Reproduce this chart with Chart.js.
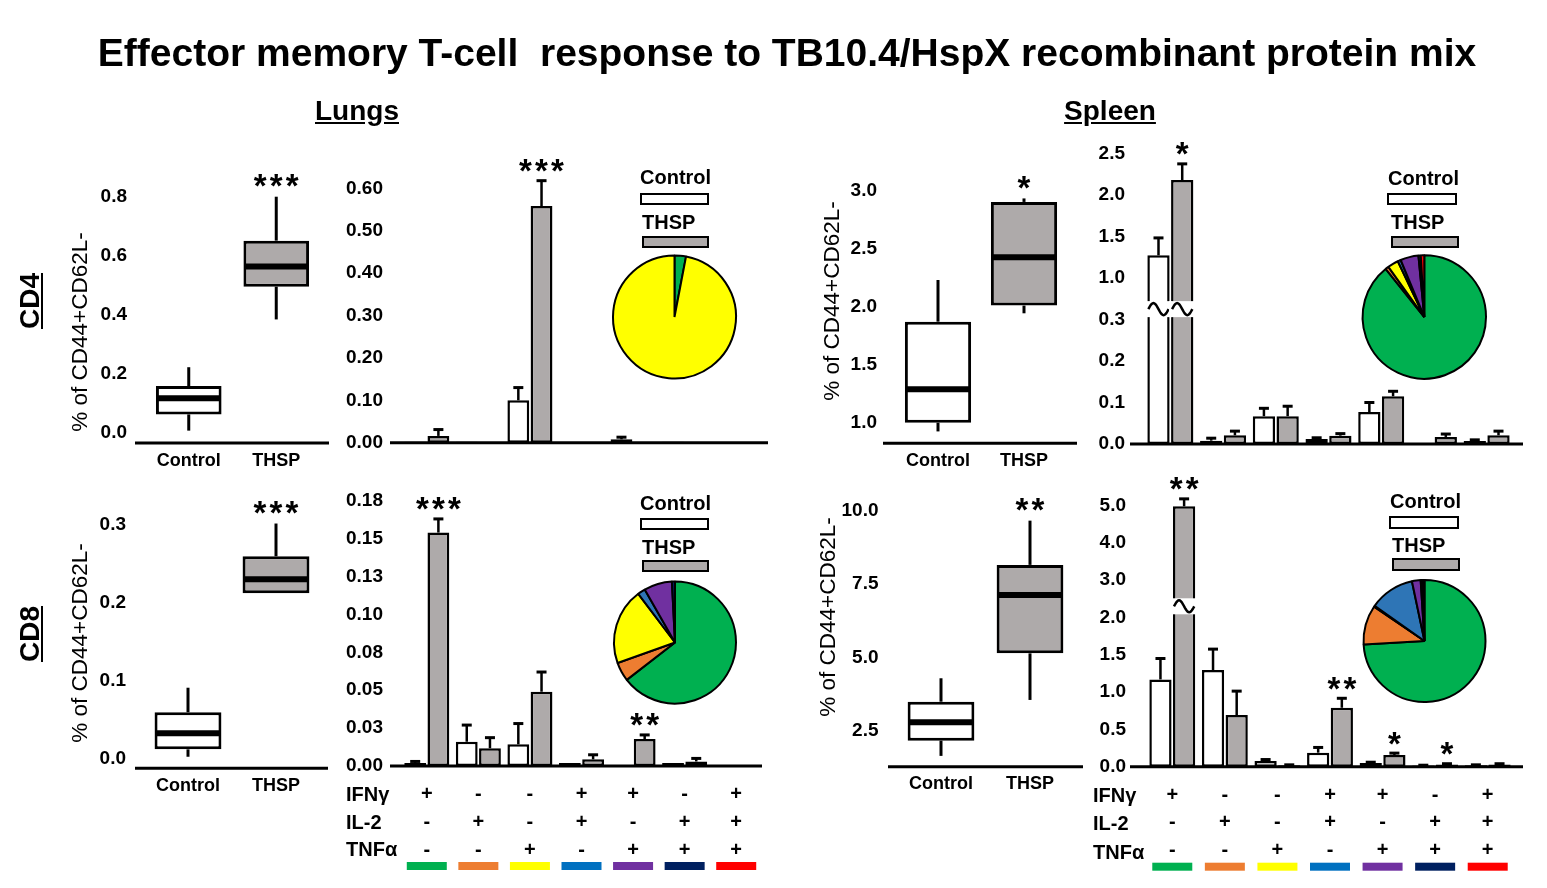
<!DOCTYPE html>
<html><head><meta charset="utf-8"><title>Effector memory T-cell response</title>
<script src="https://cdn.jsdelivr.net/npm/chart.js@4.4.1/dist/chart.umd.min.js"></script>
<style>
html,body{margin:0;padding:0;background:#fff;}
body{position:relative;width:1547px;height:888px;overflow:hidden;font-family:"Liberation Sans",Arial,Helvetica,sans-serif;color:#000;}
canvas{position:absolute;left:0;top:0;}
.t{position:absolute;white-space:nowrap;line-height:1;z-index:5;}
.c{transform:translate(-50%,-50%);}
.l{transform:translateY(-50%);}
.r{transform:translate(-50%,-50%) rotate(-90deg);}
.b{font-weight:bold;}
.u{text-decoration:underline;}
.sw{position:absolute;box-sizing:border-box;border:2.5px solid #000;z-index:5;}
</style></head><body>
<canvas id="c1" width="1547" height="888"></canvas>
<canvas id="c2" width="1547" height="888"></canvas>
<canvas id="c3" width="1547" height="888"></canvas>
<canvas id="c4" width="1547" height="888"></canvas>
<canvas id="c5" width="1547" height="888"></canvas>
<canvas id="c6" width="1547" height="888"></canvas>
<canvas id="c7" width="1547" height="888"></canvas>
<canvas id="c8" width="1547" height="888"></canvas>
<canvas id="p1" width="1547" height="888"></canvas>
<canvas id="p2" width="1547" height="888"></canvas>
<canvas id="p3" width="1547" height="888"></canvas>
<canvas id="p4" width="1547" height="888"></canvas>

<div class="t c b" style="left:787px;top:52px;font-size:39px;">Effector memory T-cell&nbsp; response to TB10.4/HspX recombinant protein mix</div>
<div class="t c b u" style="left:357px;top:111px;font-size:28px;">Lungs</div>
<div class="t c b u" style="left:1110px;top:111px;font-size:28px;">Spleen</div>
<div class="t r b u" style="left:30px;top:301px;font-size:28px;">CD4</div>
<div class="t r b u" style="left:30px;top:634px;font-size:28px;">CD8</div>
<div class="t r" style="left:80px;top:332px;font-size:22.5px;">% of CD44+CD62L-</div>
<div class="t r" style="left:80px;top:643px;font-size:22.5px;">% of CD44+CD62L-</div>
<div class="t r" style="left:832px;top:301px;font-size:22.5px;">% of CD44+CD62L-</div>
<div class="t r" style="left:828px;top:617px;font-size:22.5px;">% of CD44+CD62L-</div>

<div class="t l b" style="left:640px;top:177px;font-size:20px;">Control</div>
<div class="sw" style="left:640px;top:193px;width:69px;height:12px;background:#fff;"></div>
<div class="t l b" style="left:642px;top:222px;font-size:20px;">THSP</div>
<div class="sw" style="left:642px;top:236px;width:67px;height:12px;background:#AEAAAA;"></div>

<div class="t l b" style="left:640px;top:503px;font-size:20px;">Control</div>
<div class="sw" style="left:640px;top:518px;width:69px;height:12px;background:#fff;"></div>
<div class="t l b" style="left:642px;top:547px;font-size:20px;">THSP</div>
<div class="sw" style="left:642px;top:560px;width:67px;height:12px;background:#AEAAAA;"></div>

<div class="t l b" style="left:1388px;top:178px;font-size:20px;">Control</div>
<div class="sw" style="left:1387px;top:193px;width:70px;height:12px;background:#fff;"></div>
<div class="t l b" style="left:1391px;top:222px;font-size:20px;">THSP</div>
<div class="sw" style="left:1391px;top:236px;width:68px;height:12px;background:#AEAAAA;"></div>

<div class="t l b" style="left:1390px;top:501px;font-size:20px;">Control</div>
<div class="sw" style="left:1389px;top:516px;width:70px;height:13px;background:#fff;"></div>
<div class="t l b" style="left:1392px;top:545px;font-size:20px;">THSP</div>
<div class="sw" style="left:1392px;top:558px;width:68px;height:13px;background:#AEAAAA;"></div>

<div class="t l b" style="left:346px;top:794px;font-size:20px;">IFNγ</div>
<div class="t l b" style="left:346px;top:822px;font-size:20px;">IL-2</div>
<div class="t l b" style="left:346px;top:849px;font-size:20px;">TNFα</div>
<div class="t l b" style="left:1093px;top:795px;font-size:20px;">IFNγ</div>
<div class="t l b" style="left:1093px;top:823px;font-size:20px;">IL-2</div>
<div class="t l b" style="left:1093px;top:852px;font-size:20px;">TNFα</div>

<script>
// ================= DATA =================
const groups = ['G1','G2','G3','G4','G5','G6','G7'];
const ifng = ['+','-','-','+','+','-','+'];
const il2  = ['-','+','-','+','-','+','+'];
const tnfa = ['-','-','+','-','+','+','+'];
const cytoColors = ['#00B050','#ED7D31','#FFFF00','#0070C0','#7030A0','#002060','#FF0000'];
const pieColors  = ['#00B050','#ED7D31','#FFFF00','#2E75B6','#7030A0','#002060','#FF0000'];
const boxCats = ['Control','THSP'];
const GRAY = '#AEAAAA';

// Box plots: [Control, THSP]
const lungsCD4BoxMin = [0.008, 0.385];
const lungsCD4BoxQ1  = [0.063, 0.496];
const lungsCD4BoxMed = [0.118, 0.564];
const lungsCD4BoxQ3  = [0.159, 0.652];
const lungsCD4BoxMax = [0.223, 0.801];
const lungsCD4BoxSig = ['', '***'];
const lungsCD4BoxTicks = [0, 0.2, 0.4, 0.6, 0.8];

const lungsCD8BoxMin = [0.002, 0.2115];
const lungsCD8BoxQ1  = [0.0115, 0.2115];
const lungsCD8BoxMed = [0.032, 0.2295];
const lungsCD8BoxQ3  = [0.059, 0.259];
const lungsCD8BoxMax = [0.0905, 0.301];
const lungsCD8BoxSig = ['', '***'];
const lungsCD8BoxTicks = [0, 0.1, 0.2, 0.3];

const spleenCD4BoxMin = [0.93, 1.944];
const spleenCD4BoxQ1  = [1.005, 2.01];
const spleenCD4BoxMed = [1.292, 2.425];
const spleenCD4BoxQ3  = [1.872, 2.90];
const spleenCD4BoxMax = [2.23, 2.93];
const spleenCD4BoxSig = ['', '*'];
const spleenCD4BoxTicks = [1.0, 1.5, 2.0, 2.5, 3.0];

const spleenCD8BoxMin = [1.64, 3.55];
const spleenCD8BoxQ1  = [2.16, 5.14];
const spleenCD8BoxMed = [2.79, 7.13];
const spleenCD8BoxQ3  = [3.49, 8.16];
const spleenCD8BoxMax = [4.29, 9.67];
const spleenCD8BoxSig = ['', '**'];
const spleenCD8BoxTicks = [2.5, 5.0, 7.5, 10.0];

// Bar charts (7 cytokine groups)
const lungsCD4Ctrl    = [0.002, 0.002, 0.100, 0, 0.008, 0.002, 0];
const lungsCD4CtrlErr = [0, 0, 0.030, 0, 0.005, 0, 0];
const lungsCD4Thsp    = [0.016, 0, 0.558, 0, 0, 0, 0];
const lungsCD4ThspErr = [0.015, 0, 0.060, 0, 0, 0, 0];
const lungsCD4Sig     = ['', '', '***', '', '', '', ''];
const lungsCD4Ticks   = [0, 0.1, 0.2, 0.3, 0.4, 0.5, 0.6];
const lungsCD4TickLabels = ['0.00','0.10','0.20','0.30','0.40','0.50','0.60'];

const lungsCD8Ctrl    = [0.002, 0.016, 0.0143, 0.002, 0, 0.002, 0];
const lungsCD8CtrlErr = [0.001, 0.011, 0.0137, 0, 0, 0, 0];
const lungsCD8Thsp    = [0.154, 0.0117, 0.049, 0.0044, 0.0178, 0.003, 0];
const lungsCD8ThspErr = [0.009, 0.007, 0.013, 0.003, 0.0027, 0.002, 0];
const lungsCD8Sig     = ['***', '', '', '', '**', '', ''];
const lungsCD8Ticks   = [0, 0.025, 0.05, 0.075, 0.1, 0.125, 0.15, 0.175];
const lungsCD8TickLabels = ['0.00','0.03','0.05','0.08','0.10','0.13','0.15','0.18'];

const spleenCD4Ctrl    = [1.273, 0.008, 0.067, 0.012, 0.077, 0.002, 0.007];
const spleenCD4CtrlErr = [0.21, 0.006, 0.019, 0.003, 0.023, 0, 0.003];
const spleenCD4Thsp    = [2.18, 0.021, 0.067, 0.020, 0.115, 0.017, 0.021];
const spleenCD4ThspErr = [0.195, 0.010, 0.024, 0.005, 0.012, 0.007, 0.010];
const spleenCD4Sig     = ['*', '', '', '', '', '', ''];
const spleenCD4Ticks   = [0, 0.1, 0.2, 0.3, 1.0, 1.5, 2.0, 2.5];
const spleenCD4TickLabels = ['0.0','0.1','0.2','0.3','1.0','1.5','2.0','2.5'];

const spleenCD8Ctrl    = [1.17, 1.296, 0.076, 0.188, 0.05, 0.015, 0.02];
const spleenCD8CtrlErr = [0.28, 0.28, 0.02, 0.07, 0.01, 0.005, 0.005];
const spleenCD8Thsp    = [4.98, 0.693, 0.02, 0.79, 0.157, 0.03, 0.03];
const spleenCD8ThspErr = [0.20, 0.32, 0.005, 0.127, 0.025, 0.01, 0.01];
const spleenCD8Sig     = ['**', '', '', '**', '*', '*', ''];
const spleenCD8Ticks   = [0, 0.5, 1.0, 1.5, 2.0, 3.0, 4.0, 5.0];
const spleenCD8TickLabels = ['0.0','0.5','1.0','1.5','2.0','3.0','4.0','5.0'];

// Pie charts (THSP share per group, %)
const lungsCD4Pie  = [3, 0, 97, 0, 0, 0, 0];
const lungsCD8Pie  = [64, 5, 20, 2, 7.4, 0.8, 0];
const spleenCD4Pie = [88.5, 0.9, 2.8, 0.8, 4.7, 0.6, 0.9];
const spleenCD8Pie = [74, 10.4, 0.3, 11.9, 2.3, 0.5, 0.5];

// axis-break mappings (broken y axes in the spleen bar charts)
const identity = v => v;
const spleenCD4Map = v => v <= 0.3 ? v * 10 : 4 + (v - 1.0) / 0.5;
const spleenCD8Map = v => v <= 2.0 ? v * 2 : 4 + (v - 2.0);

// ================= HELPERS =================
const FONT = '"Liberation Sans", Arial, Helvetica, sans-serif';
Chart.defaults.font.family = FONT;
Chart.defaults.color = '#000';
Chart.defaults.animation = false;
Chart.defaults.responsive = false;
Chart.defaults.events = [];
Chart.defaults.plugins.legend.display = false;
Chart.defaults.plugins.tooltip.enabled = false;

const YW = 70;
function pad(L, T, R, B, H) {
  return {left: L - YW, top: T, right: 1547 - R, bottom: 888 - B - H};
}
function yAxis(min, max, vals, labels, map, padding) {
  return {
    type: 'linear', min: min, max: max,
    grid: {display: false, drawTicks: false}, border: {display: false},
    afterFit: s => { s.width = YW; },
    afterBuildTicks: s => { s.ticks = vals.map(v => ({value: map(v)})); },
    ticks: {autoSkip: false, padding: padding, font: {size: 19, weight: 'bold'},
            callback: (v, i) => labels[i]}
  };
}
function xAxis(H, show, padding, size, lh) {
  return {
    type: 'category', offset: true,
    grid: {display: false, drawTicks: false}, border: {display: false},
    afterFit: s => { s.height = H; },
    ticks: {display: show, autoSkip: false, maxRotation: 0, minRotation: 0, padding: padding,
            font: {size: size, weight: 'bold', lineHeight: lh}}
  };
}
function drawStars(ctx, text, x, cy) {
  if (!text) return;
  ctx.save();
  ctx.font = 'bold 33px ' + FONT;
  ctx.fillStyle = '#000';
  ctx.textAlign = 'center';
  ctx.textBaseline = 'alphabetic';
  const m = ctx.measureText('*');
  const base = cy + (m.actualBoundingBoxAscent - m.actualBoundingBoxDescent) / 2;
  const n = text.length, sp = 16;
  for (let k = 0; k < n; k++) ctx.fillText('*', x + (k - (n - 1) / 2) * sp, base);
  ctx.restore();
}
function line(ctx, x0, y0, x1, y1, w) {
  ctx.lineWidth = w; ctx.beginPath(); ctx.moveTo(x0, y0); ctx.lineTo(x1, y1); ctx.stroke();
}

function boxChart(id, box, A, yMin, yMax, ticks, extL, extR, barPct) {
  const [L, T, R, B] = A, H = 40;
  new Chart(document.getElementById(id), {
    type: 'bar',
    data: {labels: boxCats, datasets: [{
      data: box.q1.map((q, i) => [q, box.q3[i]]),
      backgroundColor: ['#ffffff', GRAY], borderColor: '#000', borderWidth: 3,
      borderSkipped: false, barPercentage: barPct, categoryPercentage: 1
    }]},
    options: {
      devicePixelRatio: 1, layout: {padding: pad(L, T, R, B, H)},
      scales: {x: xAxis(H, true, 7, 18, 1.2),
               y: yAxis(yMin, yMax, ticks, ticks.map(v => v.toFixed(1)), identity, 18)}
    },
    plugins: [{id: 'boxparts', afterDatasetsDraw(chart) {
      const ctx = chart.ctx, y = chart.scales.y, ca = chart.chartArea;
      const meta = chart.getDatasetMeta(0);
      ctx.save(); ctx.strokeStyle = '#000'; ctx.lineCap = 'butt';
      meta.data.forEach((bar, j) => {
        line(ctx, bar.x, y.getPixelForValue(box.q3[j]), bar.x, y.getPixelForValue(box.max[j]), 3);
        if (box.min[j] < box.q1[j])
          line(ctx, bar.x, y.getPixelForValue(box.q1[j]), bar.x, y.getPixelForValue(box.min[j]), 3);
        const ym = y.getPixelForValue(box.med[j]);
        line(ctx, bar.x - bar.width / 2 + 1, ym, bar.x + bar.width / 2 - 1, ym, 6);
        drawStars(ctx, box.sig[j], bar.x, y.getPixelForValue(box.max[j]) - 16);
      });
      line(ctx, ca.left - extL, ca.bottom, ca.right + extR, ca.bottom, 3);
      ctx.restore();
    }}]
  });
}

function barChart(id, d, A, dMax, ticks, tickLabels, map, opt) {
  const [L, T, R, B] = A, H = opt.bottom ? 110 : 10;
  const labels = opt.bottom ? groups.map((g, i) => [ifng[i], il2[i], tnfa[i]]) : groups;
  const ds = (vals, color) => ({
    data: vals.map(map), backgroundColor: color, borderColor: '#000', borderWidth: 2.5,
    borderSkipped: false, categoryPercentage: 0.9, barPercentage: 0.94
  });
  const vals = [d.ctrl, d.thsp], errs = [d.ctrlErr, d.thspErr];
  new Chart(document.getElementById(id), {
    type: 'bar',
    data: {labels: labels, datasets: [ds(d.ctrl, '#ffffff'), ds(d.thsp, GRAY)]},
    options: {
      devicePixelRatio: 1, layout: {padding: pad(L, T, R, B, H)},
      scales: {x: xAxis(H, !!opt.bottom, 14.5, 20, 1.39),
               y: yAxis(0, dMax, ticks, tickLabels, map, opt.tickPad)}
    },
    plugins: [{id: 'barparts', afterDatasetsDraw(chart) {
      const ctx = chart.ctx, y = chart.scales.y, x = chart.scales.x, ca = chart.chartArea;
      ctx.save(); ctx.strokeStyle = '#000';
      for (let s = 0; s < 2; s++) {
        const meta = chart.getDatasetMeta(s);
        meta.data.forEach((bar, j) => {
          const v = vals[s][j], e = errs[s][j];
          // axis break on tall bars
          if (opt.brk !== undefined && map(v) > opt.brk) {
            const yb = y.getPixelForValue(opt.brk);
            ctx.fillStyle = '#fff';
            ctx.fillRect(bar.x - bar.width / 2 - 2, yb - 8, bar.width + 4, 16);
            const x0 = bar.x - bar.width / 2 + 1, x1 = bar.x + bar.width / 2 - 1;
            ctx.lineWidth = 2.5; ctx.beginPath();
            for (let k = 0; k <= 24; k++) {
              const t = k / 24, px = x0 + (x1 - x0) * t, py = yb - 6 * Math.sin(2 * Math.PI * t);
              if (k === 0) ctx.moveTo(px, py); else ctx.lineTo(px, py);
            }
            ctx.stroke();
          }
          if (e > 0) {
            const yt = y.getPixelForValue(map(v + e));
            line(ctx, bar.x, bar.y, bar.x, yt, 2.5);
            line(ctx, bar.x - 5, yt, bar.x + 5, yt, 3);
          }
          if (s === 1) drawStars(ctx, d.sig[j], bar.x, y.getPixelForValue(map(v + e)) - 15);
        });
      }
      line(ctx, ca.left - opt.extL, ca.bottom, ca.right + opt.extR, ca.bottom, 3);
      if (opt.bottom) {
        groups.forEach((g, i) => {
          ctx.fillStyle = cytoColors[i];
          ctx.fillRect(x.getPixelForValue(i) - 20, ca.bottom + 96, 40, 8);
        });
      }
      ctx.restore();
    }}]
  });
}

function pieChart(id, vals, cx, cy, r) {
  const s = 2 * r + 2;
  new Chart(document.getElementById(id), {
    type: 'pie',
    data: {labels: groups, datasets: [{data: vals, backgroundColor: pieColors, borderColor: '#000', borderWidth: 2}]},
    options: {devicePixelRatio: 1,
      layout: {padding: {left: cx - s / 2, top: cy - s / 2, right: 1547 - (cx + s / 2), bottom: 888 - (cy + s / 2)}}}
  });
}

// ================= CHARTS =================
boxChart('c1', {min: lungsCD4BoxMin, q1: lungsCD4BoxQ1, med: lungsCD4BoxMed, q3: lungsCD4BoxQ3, max: lungsCD4BoxMax, sig: lungsCD4BoxSig},
  [145, 167.5, 320, 443], -0.0339, 0.9, lungsCD4BoxTicks, 10, 9, 0.75);
boxChart('c2', {min: lungsCD8BoxMin, q1: lungsCD8BoxQ1, med: lungsCD8BoxMed, q3: lungsCD8BoxQ3, max: lungsCD8BoxMax, sig: lungsCD8BoxSig},
  [144, 500.9, 320, 768.3], -0.0128, 0.33, lungsCD8BoxTicks, 9, 8, 0.76);
boxChart('c3', {min: spleenCD4BoxMin, q1: spleenCD4BoxQ1, med: spleenCD4BoxMed, q3: spleenCD4BoxQ3, max: spleenCD4BoxMax, sig: spleenCD4BoxSig},
  [895, 172.8, 1067, 443.3], 0.828, 3.15, spleenCD4BoxTicks, 12, 10, 0.77);
boxChart('c4', {min: spleenCD8BoxMin, q1: spleenCD8BoxQ1, med: spleenCD8BoxMed, q3: spleenCD8BoxQ3, max: spleenCD8BoxMax, sig: spleenCD8BoxSig},
  [896.5, 493.4, 1074.5, 766.7], 1.271, 10.6, spleenCD8BoxTicks, 8.5, 8.5, 0.75);

barChart('c5', {ctrl: lungsCD4Ctrl, ctrlErr: lungsCD4CtrlErr, thsp: lungsCD4Thsp, thspErr: lungsCD4ThspErr, sig: lungsCD4Sig},
  [401, 145.9, 762, 442.7], 0.7, lungsCD4Ticks, lungsCD4TickLabels, identity, {bottom: false, tickPad: 18, extL: 11, extR: 6});
barChart('c6', {ctrl: lungsCD8Ctrl, ctrlErr: lungsCD8CtrlErr, thsp: lungsCD8Thsp, thspErr: lungsCD8ThspErr, sig: lungsCD8Sig},
  [401, 478, 762, 766], 0.19, lungsCD8Ticks, lungsCD8TickLabels, identity, {bottom: true, tickPad: 18, extL: 11, extR: 0});
barChart('c7', {ctrl: spleenCD4Ctrl, ctrlErr: spleenCD4CtrlErr, thsp: spleenCD4Thsp, thspErr: spleenCD4ThspErr, sig: spleenCD4Sig},
  [1144, 132.75, 1513, 444], 7.5, spleenCD4Ticks, spleenCD4TickLabels, spleenCD4Map, {bottom: false, tickPad: 19, extL: 14, extR: 10, brk: 3.25});
barChart('c8', {ctrl: spleenCD8Ctrl, ctrlErr: spleenCD8CtrlErr, thsp: spleenCD8Thsp, thspErr: spleenCD8ThspErr, sig: spleenCD8Sig},
  [1146, 483.2, 1514, 766.7], 7.6, spleenCD8Ticks, spleenCD8TickLabels, spleenCD8Map, {bottom: true, tickPad: 20, extL: 16, extR: 9, brk: 4.3});

pieChart('p1', lungsCD4Pie, 674.5, 317, 61.5);
pieChart('p2', lungsCD8Pie, 675, 642.5, 61);
pieChart('p3', spleenCD4Pie, 1424.3, 317, 61.7);
pieChart('p4', spleenCD8Pie, 1424.5, 641, 61);
</script>
</body></html>
